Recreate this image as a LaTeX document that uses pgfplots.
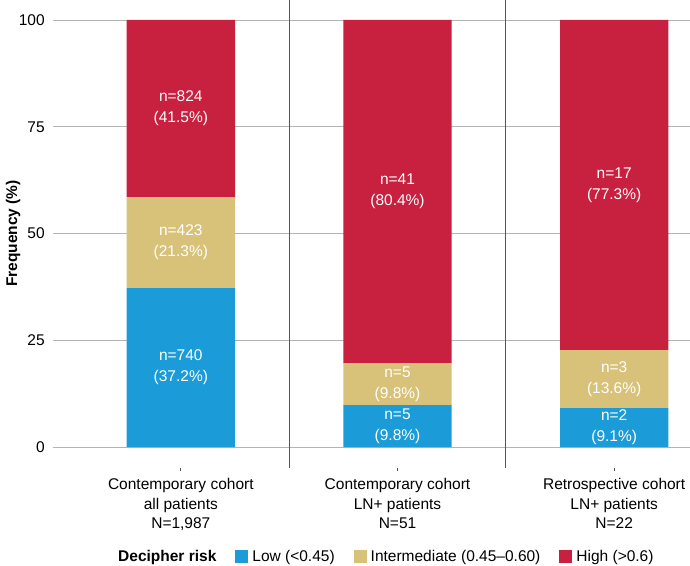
\documentclass[border=0pt]{standalone}
\usepackage{pgfplots}
\pgfplotsset{compat=1.18}
\usepackage{fontspec}
\setmainfont{Liberation Sans}
\definecolor{lowc}{HTML}{1B9BD7}
\definecolor{midc}{HTML}{D8C27A}
\definecolor{highc}{HTML}{C8203F}
\definecolor{gridc}{HTML}{B4B4B4}
\definecolor{sepc}{HTML}{555555}
\begin{document}
\fontsize{15.5}{19.5}\selectfont
\begin{tikzpicture}
\begin{axis}[
  scale only axis, width=637pt, height=427pt,
  xmin=-0.59, xmax=2.35, ymin=0, ymax=100,
  ybar stacked, bar width=0.5,
  axis line style={draw=none},
  clip=false,
  /pgf/number format/assume math mode=true,
  ytick={0,25,50,75,100},
  ymajorgrids, grid style={gridc, line width=0.9pt},
  major tick length=0pt,
  xtick={0,1,2},
  xticklabels={{Contemporary cohort\\all patients\\N=1,987},{Contemporary cohort\\LN+ patients\\N=51},{Retrospective cohort\\LN+ patients\\N=22}},
  xticklabel style={align=center, yshift=-26pt},
  yticklabel style={xshift=-3pt},
  ylabel={\bfseries Frequency (\%)},
  ylabel style={yshift=-12pt},
  legend columns=-1,
  legend style={draw=none, fill=none, at={(0.521,-0.257)}, anchor=center,
    column sep=0pt,
    /tikz/every odd column/.append style={column sep=2pt},
    /tikz/every even column/.append style={column sep=17pt}},
  legend image code/.code={\fill[#1,draw=none] (0pt,-6.5pt) rectangle (13pt,6.5pt);},
]
\addlegendimage{empty legend}
\addlegendentry{\bfseries Decipher risk}
\addplot[fill=lowc, draw=none] coordinates {(0,37.2) (1,9.8) (2,9.1)};
\addlegendentry{Low (<0.45)}
\addplot[fill=midc, draw=none] coordinates {(0,21.3) (1,9.8) (2,13.6)};
\addlegendentry{Intermediate (0.45–0.60)}
\addplot[fill=highc, draw=none] coordinates {(0,41.5) (1,80.4) (2,77.3)};
\addlegendentry{High (>0.6)}
\draw[sepc, line width=1pt] (axis cs:0.5,-4.8) -- (axis cs:0.5,104.8);
\draw[sepc, line width=1pt] (axis cs:1.5,-4.8) -- (axis cs:1.5,104.8);
\draw[sepc, line width=0.7pt] (axis cs:0,-4.9) -- (axis cs:0,-5.7);
\draw[sepc, line width=0.7pt] (axis cs:1,-4.9) -- (axis cs:1,-5.7);
\draw[sepc, line width=0.7pt] (axis cs:2,-4.9) -- (axis cs:2,-5.7);
\coordinate (a1) at (axis cs:0,18.6);
\coordinate (a2) at (axis cs:0,47.85);
\coordinate (a3) at (axis cs:0,79.25);
\coordinate (b1) at (axis cs:1,4.9);
\coordinate (b2) at (axis cs:1,14.7);
\coordinate (b3) at (axis cs:1,59.8);
\coordinate (c1) at (axis cs:2,4.55);
\coordinate (c2) at (axis cs:2,15.9);
\coordinate (c3) at (axis cs:2,61.35);
\coordinate (bl) at (rel axis cs:0,0);
\coordinate (tr) at (rel axis cs:1,1);
\end{axis}
\begin{scope}[every node/.style={white, align=center, font=\fontsize{15.5}{21}\selectfont}]
\node at (a1) {n=740\\(37.2\%)};
\node at (a2) {n=423\\(21.3\%)};
\node at (a3) {n=824\\(41.5\%)};
\node at (b1) {n=5\\(9.8\%)};
\node at (b2) {n=5\\(9.8\%)};
\node at (b3) {n=41\\(80.4\%)};
\node at (c1) {n=2\\(9.1\%)};
\node at (c2) {n=3\\(13.6\%)};
\node at (c3) {n=17\\(77.3\%)};
\end{scope}
\pgfresetboundingbox
\path (bl) ++(-53pt,-118pt) coordinate (BL);
\path (tr) ++(0pt,20pt) coordinate (TR);
\path (BL) rectangle (TR);
\end{tikzpicture}
\end{document}
